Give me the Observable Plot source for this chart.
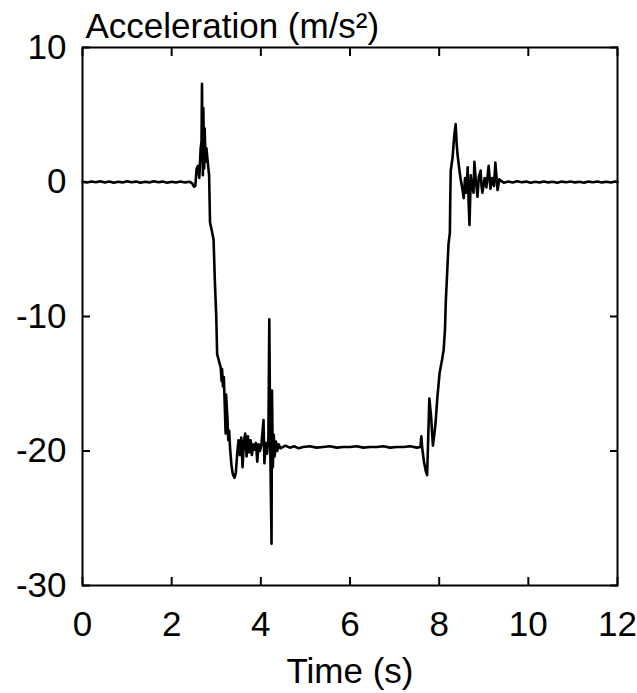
<!DOCTYPE html>
<html>
<head>
<meta charset="utf-8">
<script src="https://cdn.jsdelivr.net/npm/d3@7"></script>
<script src="https://cdn.jsdelivr.net/npm/@observablehq/plot@0.6"></script>
<style>
  html, body { margin: 0; padding: 0; background: #fff; }
</style>
</head>
<body>
<div id="chart"></div>
<script>
// Time (s)
const time = [
  0.00,0.10,0.20,0.30,0.40,0.50,0.60,0.70,0.80,0.90,1.00,1.10,1.20,1.30,1.40,1.50,1.60,1.70,1.80,1.90,2.00,2.10,2.20,2.30,2.40,
  2.46,2.50,2.53,2.56,2.59,2.62,2.65,2.67,2.68,2.70,2.71,2.73,2.74,2.76,2.78,2.80,2.84,2.86,2.90,2.94,2.97,3.00,3.02,3.06,
  3.10,3.12,3.13,3.15,3.17,3.19,3.21,3.22,3.25,3.27,3.29,3.31,3.34,3.37,3.41,3.44,3.47,3.50,
  3.53,3.56,3.59,3.62,3.65,3.68,3.71,3.74,3.77,3.80,3.83,3.86,3.89,3.92,3.95,3.98,4.01,4.06,4.08,4.11,4.14,4.17,4.19,4.21,
  4.24,4.25,4.27,4.29,4.31,4.34,4.37,4.40,4.44,
  4.55,4.65,4.75,4.85,4.95,5.10,5.25,5.40,5.55,5.70,5.85,6.00,6.15,6.30,6.45,6.60,6.75,6.90,7.05,7.20,7.35,7.50,7.58,
  7.60,7.62,7.66,7.70,7.73,7.75,7.78,7.82,7.86,7.90,7.92,7.96,8.01,8.06,8.10,8.13,8.15,8.19,8.21,8.24,8.25,8.26,8.30,8.34,
  8.37,8.39,8.41,8.45,8.48,8.52,8.55,8.58,8.61,8.64,8.66,8.68,8.71,8.73,8.75,8.77,8.79,8.82,8.86,8.89,8.93,8.95,8.97,9.02,
  9.06,9.11,9.15,9.19,9.23,9.26,9.31,9.35,9.38,9.45,9.55,
  9.65,9.75,9.85,9.95,10.05,10.15,10.25,10.35,10.45,10.55,10.65,10.75,10.85,10.95,11.05,11.15,11.25,11.35,11.45,11.55,11.65,11.75,11.85,11.95,12.00
];
// Acceleration (m/s²)
const accel = [
  0.02,-0.03,0.04,-0.02,0.05,-0.04,0.03,-0.05,0.02,-0.03,0.06,-0.02,0.03,-0.06,0.02,-0.03,0.05,-0.02,0.03,-0.05,0.02,-0.04,0.04,-0.03,0.02,
  -0.10,-0.35,-0.30,1.0,1.2,0.3,2.5,3.0,7.3,0.5,5.5,1.0,4.0,1.5,2.5,1.8,0.5,-3.0,-3.6,-4.3,-7.5,-10.0,-12.8,-13.3,
  -13.8,-14.8,-13.9,-15.2,-14.5,-16.5,-18.7,-15.8,-17.5,-19.2,-18.5,-19.8,-21.0,-21.7,-22.0,-21.6,-20.2,-19.2,
  -20.3,-19.0,-21.2,-19.3,-18.7,-20.4,-18.9,-20.1,-19.2,-20.3,-19.5,-19.9,-19.4,-20.8,-19.5,-20.0,-19.6,-17.7,-20.9,-19.4,-20.2,-19.0,-10.2,-19.3,
  -26.9,-15.5,-21.2,-18.8,-20.4,-19.3,-20.0,-19.5,-19.8,
  -19.6,-19.75,-19.65,-19.8,-19.7,-19.65,-19.75,-19.7,-19.65,-19.75,-19.7,-19.7,-19.65,-19.75,-19.7,-19.7,-19.65,-19.75,-19.7,-19.7,-19.65,-19.75,-19.7,
  -18.9,-19.8,-20.8,-21.5,-21.8,-19.5,-16.1,-17.5,-19.6,-18.5,-17.9,-16.0,-14.2,-13.3,-12.5,-11.0,-8.8,-6.0,-4.6,-3.8,-1.0,0.85,1.8,3.5,
  4.3,3.0,2.1,1.0,0.26,-0.5,-1.2,0.3,-0.8,1.1,-1.5,-3.2,0.5,-0.6,0.1,-0.8,1.5,0.2,-1.1,0.4,0.85,-0.3,-0.8,0.3,
  -0.4,1.2,-0.5,0.3,-0.3,1.45,-0.6,0.2,0.1,-0.05,0.04,
  -0.03,0.05,-0.02,0.03,-0.05,0.02,-0.04,0.04,-0.03,0.02,-0.05,0.03,-0.02,0.04,-0.03,0.02,-0.05,0.03,-0.02,0.04,-0.03,0.02,-0.04,0.03,0.0
];
const xTicks = [0, 2, 4, 6, 8, 10, 12];
const yTicks = [-30, -20, -10, 0, 10];
const titleText = "Acceleration (m/s²)";
const xLabel = "Time (s)";

const rows = time.map((t, i) => ({t, a: accel[i]}));
const fmt = d => String(d);

const chart = Plot.plot({
  width: 637,
  height: 693,
  marginLeft: 82,
  marginRight: 20,
  marginTop: 47,
  marginBottom: 108,
  style: {fontFamily: "'Liberation Sans', Arial, sans-serif", fontSize: "35px", color: "#000", background: "#fff"},
  x: {domain: [0, 12]},
  y: {domain: [-30, 10]},
  marks: [
    Plot.line(rows, {x: "t", y: "a", stroke: "#000", strokeWidth: 2.6, strokeLinejoin: "round"}),
    Plot.frame({stroke: "#000", strokeWidth: 2}),
    // labels
    Plot.axisX(xTicks, {anchor: "bottom", tickSize: 0, tickPadding: 26, tickFormat: fmt, label: null}),
    Plot.axisY(yTicks, {anchor: "left", tickSize: 0, tickPadding: 16, tickFormat: fmt, label: null}),
    // inward ticks
    Plot.axisX(xTicks, {anchor: "bottom", tickSize: 8, dy: -8, fill: "none", strokeWidth: 2, label: null}),
    Plot.axisX(xTicks, {anchor: "top", tickSize: 8, dy: 8, fill: "none", strokeWidth: 2, label: null}),
    Plot.axisY(yTicks, {anchor: "left", tickSize: 8, dx: 8, fill: "none", strokeWidth: 2, label: null}),
    Plot.axisY(yTicks, {anchor: "right", tickSize: 8, dx: -8, fill: "none", strokeWidth: 2, label: null}),
    Plot.text([titleText], {frameAnchor: "top-left", textAnchor: "start", lineAnchor: "bottom", dx: 3, dy: -10, fontSize: 35, fill: "#000"}),
    Plot.text([xLabel], {frameAnchor: "bottom", textAnchor: "middle", lineAnchor: "bottom", dy: 97, fontSize: 35, fill: "#000"})
  ]
});
document.getElementById("chart").appendChild(chart);
</script>
</body>
</html>
